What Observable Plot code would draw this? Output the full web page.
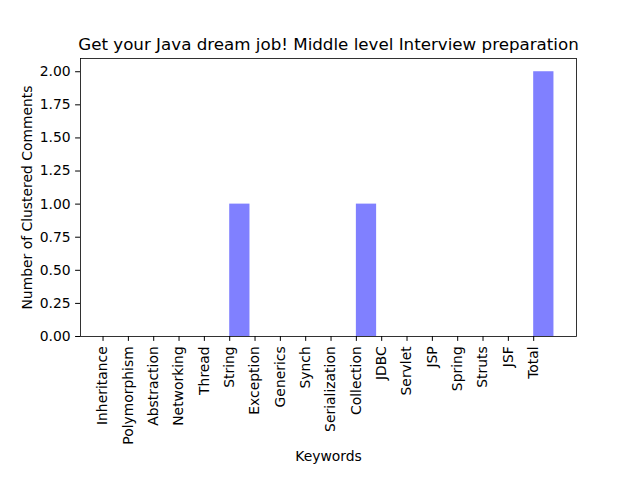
<!DOCTYPE html>
<html>
<head>
<meta charset="utf-8">
<script src="https://cdn.jsdelivr.net/npm/d3@7"></script>
<script src="https://cdn.jsdelivr.net/npm/@observablehq/plot@0.6"></script>
<style>
  body { margin: 0; background: #fff; }
  svg { font-family: "DejaVu Sans", sans-serif; }
</style>
</head>
<body>
<div id="chart"></div>
<script>
const categories = ["Inheritance","Polymorphism","Abstraction","Networking","Thread","String","Exception","Generics","Synch","Serialization","Collection","JDBC","Servlet","JSP","Spring","Struts","JSF","Total"];
const counts = [0,0,0,0,0,1,0,0,0,0,1,0,0,0,0,0,0,2];
const yTicks = [0,0.25,0.5,0.75,1,1.25,1.5,1.75,2];
const title = "Get your Java dream job! Middle level Interview preparation";
const xLabel = "Keywords";
const yLabel = "Number of Clustered Comments";

const barW = 0.8;
const data = categories.map((c, i) => ({i, c, v: counts[i]}));
const idx = categories.map((c, i) => i);
const span = categories.length - 1 + barW;
const xDomain = [-0.05 * span, span * 1.05];
const yDomain = [0, d3.max(counts) * 1.05];

const chart = Plot.plot({
  width: 640,
  height: 480,
  marginLeft: 80,
  marginRight: 64,
  marginTop: 58,
  marginBottom: 144,
  style: {fontFamily: "DejaVu Sans, sans-serif", fontSize: "13.9px", color: "#000", background: "#fff"},
  x: {type: "linear", domain: xDomain},
  y: {type: "linear", domain: yDomain},
  marks: [
    Plot.rectY(data, {x1: d => d.i, x2: d => d.i + barW, y1: 0, y2: "v", fill: "#8080ff", inset: 0}),
    Plot.frame({stroke: "#000", strokeWidth: 0.8}),
    Plot.axisY({ticks: yTicks, tickFormat: d3.format(".2f"), tickSize: 4.9, tickPadding: 4.9, label: null, fontSize: 13.9}),
    Plot.axisX({ticks: idx, tickFormat: i => categories[i], tickRotate: -90, tickSize: 4.9, tickPadding: 4.9, label: null, fontSize: 13.9}),
    Plot.text([title], {frameAnchor: "top", dy: -20, fontSize: 16.7, text: d => d}),
    Plot.text([xLabel], {frameAnchor: "bottom", dy: 124, fontSize: 13.9, text: d => d}),
    Plot.text([yLabel], {frameAnchor: "left", dx: -53, rotate: -90, textAnchor: "middle", fontSize: 13.9, text: d => d})
  ]
});
document.getElementById("chart").appendChild(chart);
</script>
</body>
</html>
